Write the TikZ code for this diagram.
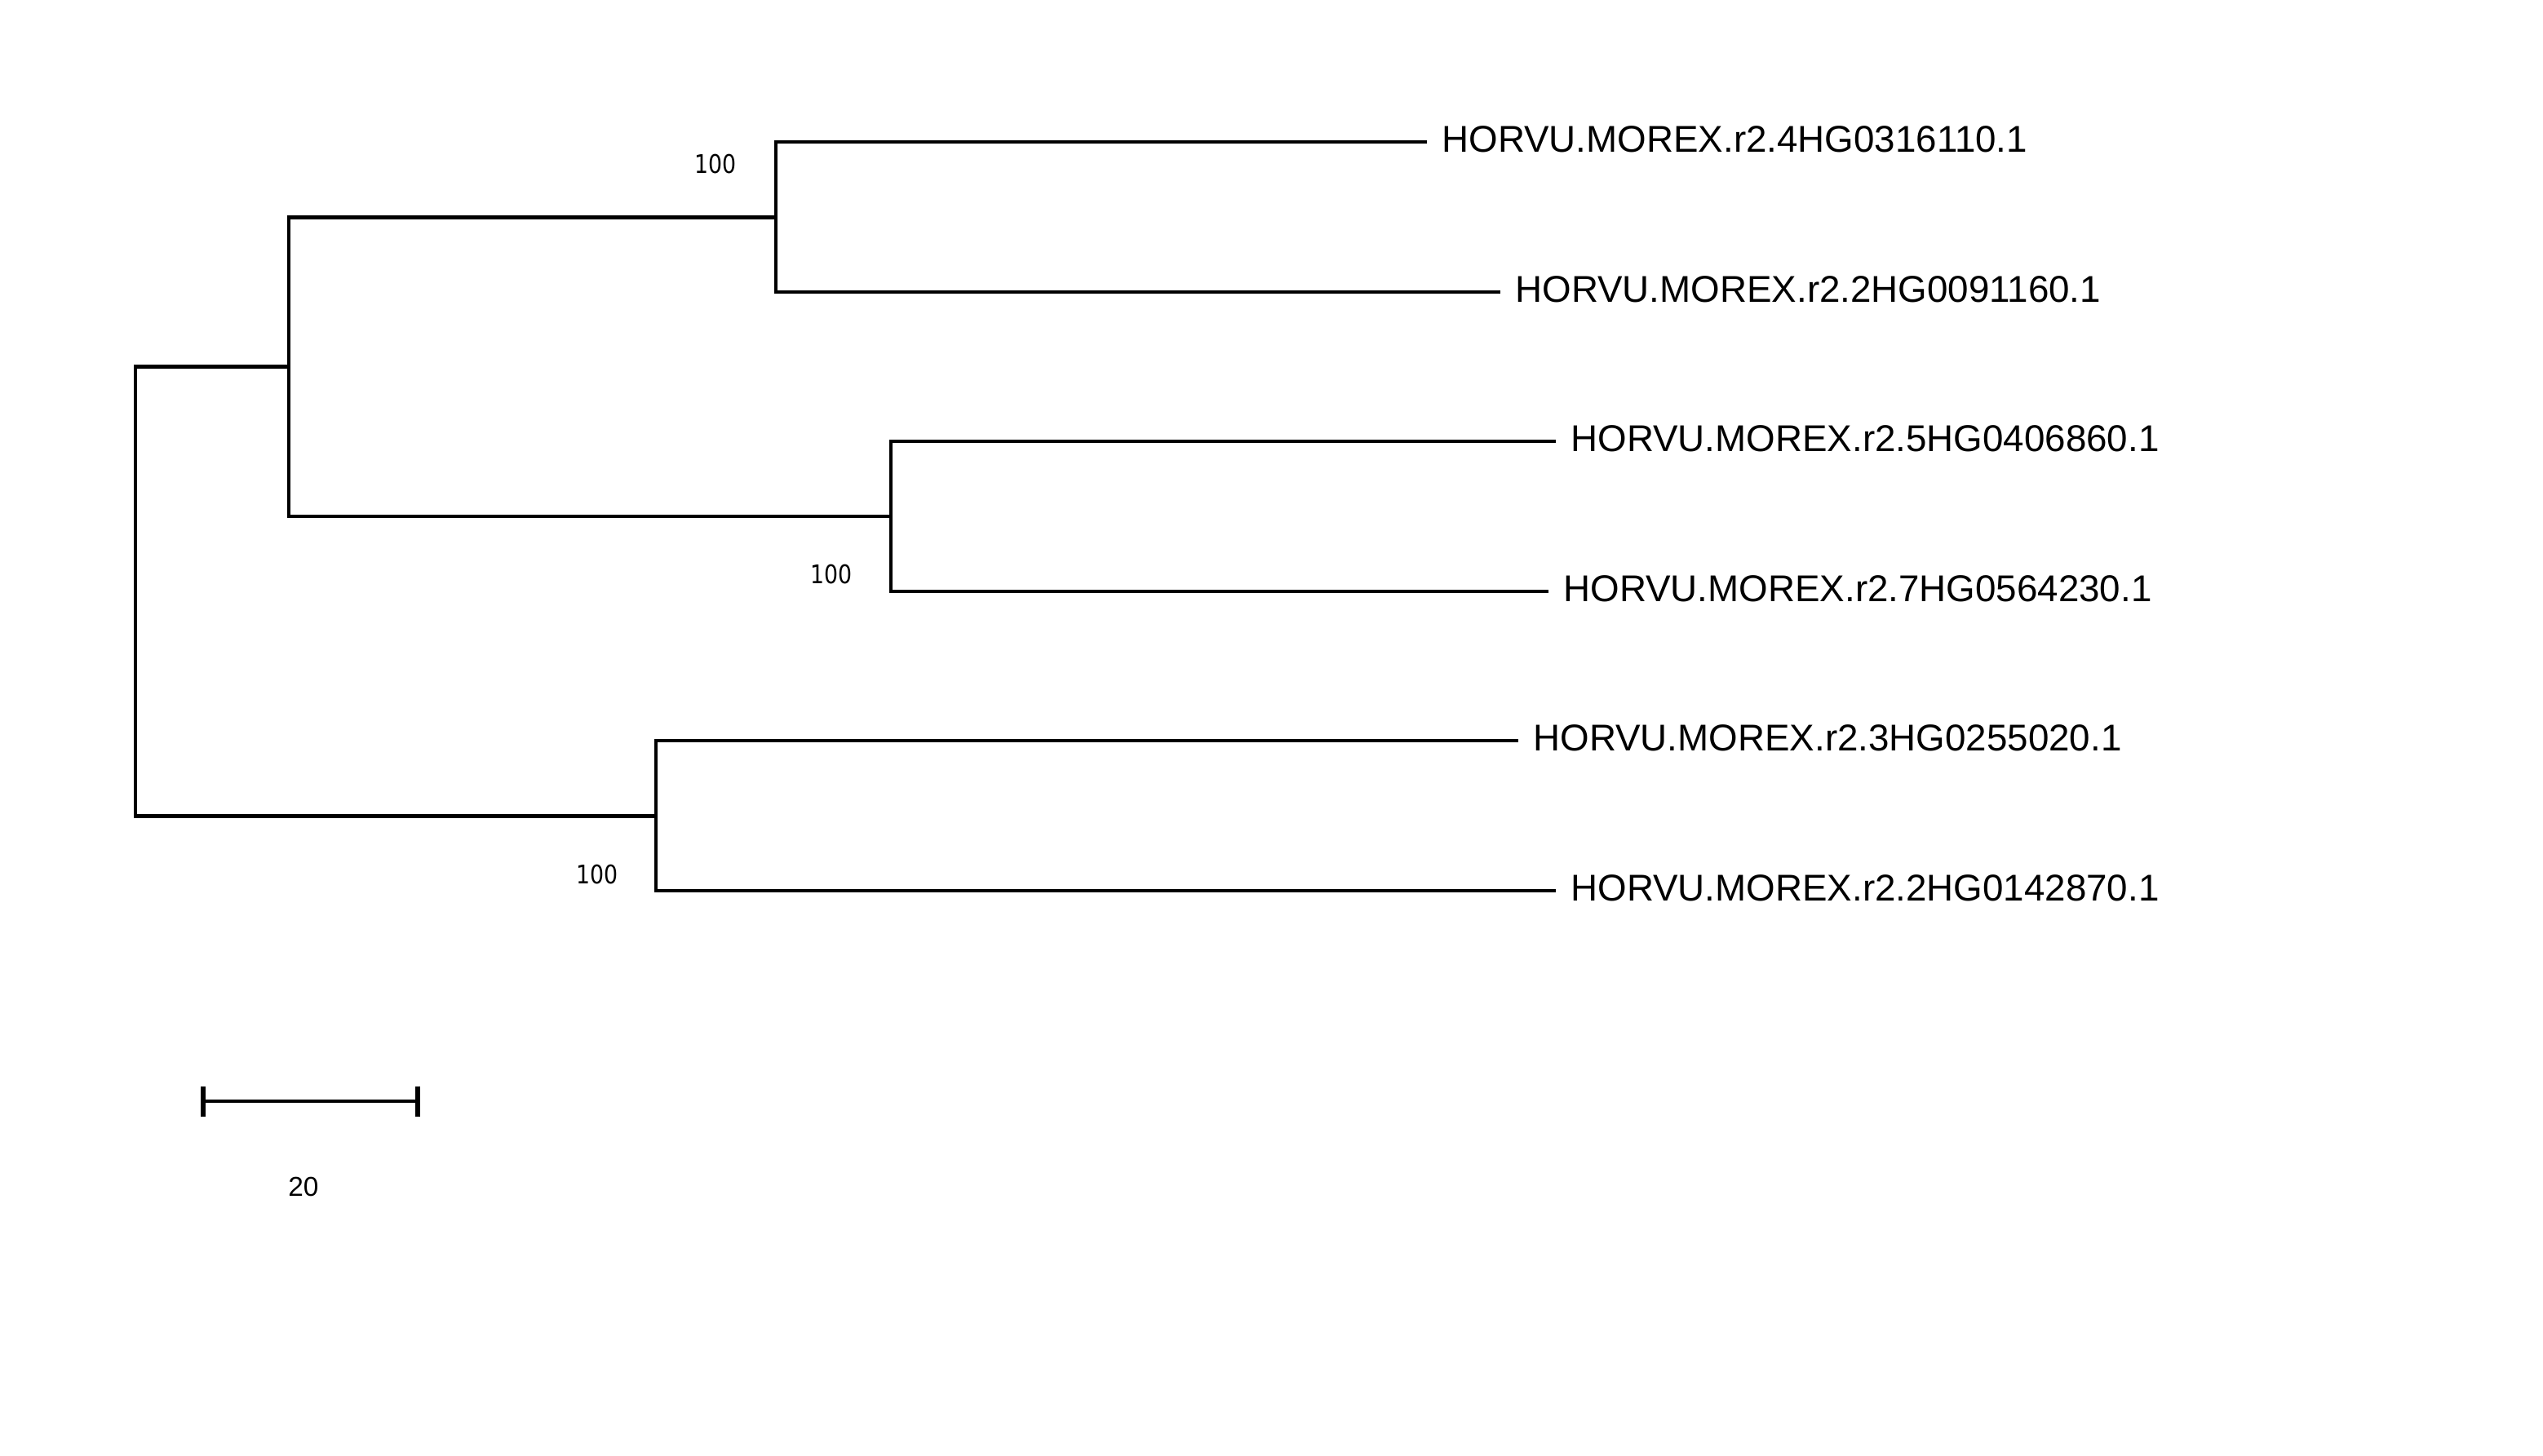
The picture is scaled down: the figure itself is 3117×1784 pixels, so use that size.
\documentclass[tikz,border=0pt]{standalone}
\usepackage{fontspec}
\setmainfont{Liberation Sans}
\newfontfamily\bootfont[FakeStretch=0.85]{DejaVu Sans}
\usetikzlibrary{positioning}
\tikzset{branch/.style={black,line width=0.047cm},
         taxon/.style={inner sep=0pt,yshift=0.03cm,font=\fontsize{13}{16}\selectfont},
         boot/.style={inner sep=0pt,font=\bootfont\fontsize{8.95}{11}\selectfont},
         scalebar/.style={black,line width=0.043cm}}

\begin{document}
\begin{tikzpicture}[x=0.01cm,y=-0.01cm]
       \useasboundingbox (0,0) rectangle (3117,1784);
       \begin{scope}
        \coordinate (root) at (166,725);
        \coordinate (A) at (354,449.5);
        \coordinate (B) at (951,266.5);
        \coordinate (C) at (1092,633);
        \coordinate (D) at (804,1000.5);
        \coordinate (t1) at (1749,174);
        \coordinate (t2) at (1839,358);
        \coordinate (t3) at (1907,541);
        \coordinate (t4) at (1898,725);
        \coordinate (t5) at (1861,908);
        \coordinate (t6) at (1907,1092);
        \draw[branch] (root) |- (A);
        \draw[branch] (root) |- (D);
        \draw[branch] (A) |- (B);
        \draw[branch] (A) |- (C);
        \draw[branch] (B) |- (t1);
        \draw[branch] (B) |- (t2);
        \draw[branch] (C) |- (t3);
        \draw[branch] (C) |- (t4);
        \draw[branch] (D) |- (t5);
        \draw[branch] (D) |- (t6);
        \node[taxon,right=0.18cm of t1] (n1) {HORVU.MOREX.r2.4HG0316110.1};
        \node[taxon,right=0.18cm of t2] (n2) {HORVU.MOREX.r2.2HG0091160.1};
        \node[taxon,right=0.18cm of t3] (n3) {HORVU.MOREX.r2.5HG0406860.1};
        \node[taxon,right=0.18cm of t4] (n4) {HORVU.MOREX.r2.7HG0564230.1};
        \node[taxon,right=0.18cm of t5] (n5) {HORVU.MOREX.r2.3HG0255020.1};
        \node[taxon,right=0.18cm of t6] (n6) {HORVU.MOREX.r2.2HG0142870.1};
        \node[boot] (bB) at (877,201) {100};
        \node[boot] (bC) at (1019,704) {100};
        \node[boot] (bD) at (732,1072) {100};
       \end{scope}
       \begin{scope}
        \coordinate (s0) at (249,1350);
        \coordinate (s1) at (512,1350);
        \draw[scalebar] (s0) -- (s1);
        \draw[scalebar,line width=0.053cm] (249,1332) -- (249,1369);
        \draw[scalebar,line width=0.053cm] (512,1332) -- (512,1369);
        \node[inner sep=0pt,font=\fontsize{9.5}{11}\selectfont] (len) at (372,1455) {20};
       \end{scope}
\end{tikzpicture}
\end{document}
